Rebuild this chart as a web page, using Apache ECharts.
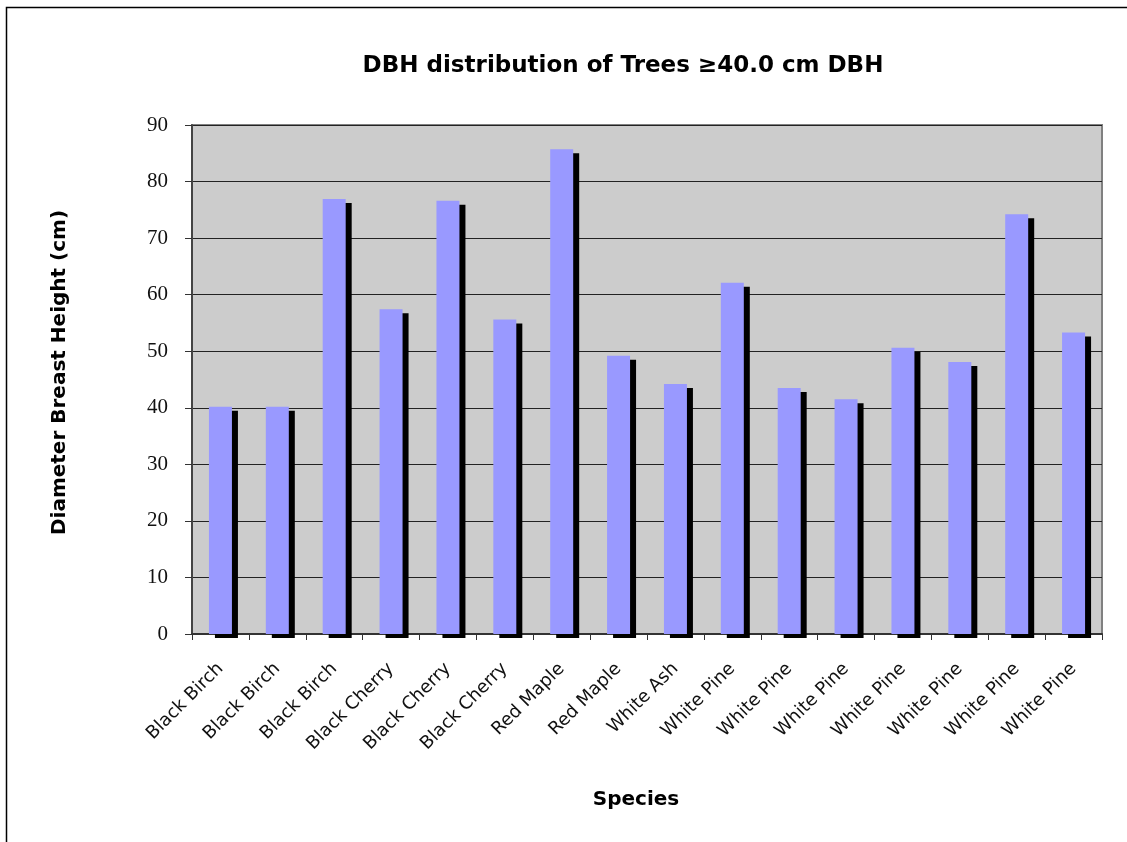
<!DOCTYPE html>
<html>
<head>
<meta charset="utf-8">
<script src="https://cdn.jsdelivr.net/npm/echarts@6/dist/echarts.min.js"></script>
<style>
  html, body { margin: 0; padding: 0; background: #ffffff; }
  #chart { width: 1127px; height: 842px; }
</style>
</head>
<body>
<div id="chart"></div>
<script>
// Tree species (one entry per measured tree)
const species = [
  'Black Birch', 'Black Birch', 'Black Birch',
  'Black Cherry', 'Black Cherry', 'Black Cherry',
  'Red Maple', 'Red Maple',
  'White Ash',
  'White Pine', 'White Pine', 'White Pine', 'White Pine', 'White Pine', 'White Pine', 'White Pine'
];
// Diameter at breast height, cm
const dbh = [40.2, 40.2, 76.9, 57.4, 76.6, 55.6, 85.7, 49.2, 44.2, 62.1, 43.5, 41.5, 50.6, 48.1, 74.2, 53.3];
const yTicks = { min: 0, max: 90, step: 10 };

const chart = echarts.init(document.getElementById('chart'), null, { renderer: 'canvas' });

chart.setOption({
  animation: false,
  backgroundColor: '#ffffff',
  title: {
    text: 'DBH distribution of Trees \u226540.0 cm DBH',
    left: 618,
    textAlign: 'center',
    top: 50,
    textStyle: { fontFamily: 'DejaVu Sans', fontWeight: 'bold', fontSize: 23, color: '#000' }
  },
  graphic: [{
    type: 'rect',
    shape: { x: 6.5, y: 7.5, width: 1140, height: 860 },
    style: { fill: null, stroke: '#000', lineWidth: 1.5 },
    silent: true,
    z: -1
  }],
  grid: {
    left: 192, right: 25, top: 125, bottom: 208,
    show: true,
    backgroundColor: '#cccccc',
    borderColor: '#808080',
    borderWidth: 2
  },
  xAxis: {
    type: 'category',
    data: species,
    name: 'Species',
    nameLocation: 'middle',
    nameGap: 156,
    nameTextStyle: {
      fontFamily: 'DejaVu Sans', fontWeight: 'bold', fontSize: 20, color: '#000',
      padding: [0, 22, 0, 0]
    },
    axisLine: { lineStyle: { color: '#333', width: 2 } },
    axisTick: { show: true, length: 6, inside: false, alignWithLabel: false, lineStyle: { color: '#333' } },
    axisLabel: {
      rotate: 45,
      interval: 0,
      margin: 32,
      fontFamily: 'DejaVu Sans',
      fontSize: 18,
      color: '#111'
    }
  },
  yAxis: {
    type: 'value',
    min: yTicks.min,
    max: yTicks.max,
    interval: yTicks.step,
    name: 'Diameter Breast Height (cm)',
    nameLocation: 'middle',
    nameGap: 122,
    nameRotate: 90,
    nameTextStyle: {
      fontFamily: 'DejaVu Sans', fontWeight: 'bold', fontSize: 20, color: '#000',
      padding: [0, 0, 0, 14]
    },
    axisLine: { show: true, lineStyle: { color: '#444', width: 2 } },
    axisTick: { show: true, length: 7, inside: false, lineStyle: { color: '#333' } },
    axisLabel: {
      margin: 24,
      fontFamily: 'Liberation Serif',
      fontSize: 21,
      color: '#111'
    },
    splitLine: { show: true, lineStyle: { color: '#222', width: 1 } }
  },
  series: [{
    type: 'bar',
    data: dbh,
    barWidth: 23,
    itemStyle: {
      color: '#9999ff',
      shadowColor: '#000000',
      shadowBlur: 0,
      shadowOffsetX: 6,
      shadowOffsetY: 4
    }
  }]
});
</script>
</body>
</html>
